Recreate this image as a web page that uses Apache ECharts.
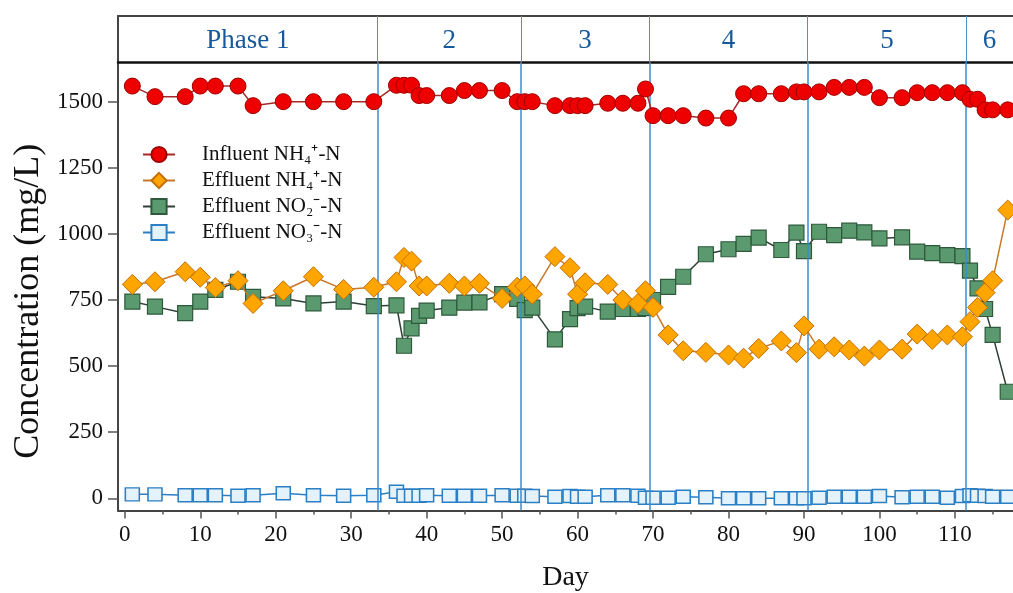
<!DOCTYPE html>
<html>
<head>
<meta charset="utf-8">
<script src="https://cdn.jsdelivr.net/npm/echarts@6/dist/echarts.min.js"></script>
<style>
html,body{margin:0;padding:0;background:#fff;}
#chart{width:1013px;height:593px;}
</style>
</head>
<body>
<div id="chart"></div>
<script>
// ---- data ----
const days = [1,4,8,10,12,15,17,21,25,29,33,36,37,38,39,40,43,45,47,50,52,53,54,57,59,60,61,64,66,68,69,70,72,74,77,80,82,84,87,89,90,92,94,96,98,100,103,105,107,109,111,112,113,114,115,117];
const influentNH4 = [1559,1519,1519,1559,1559,1559,1485,1500,1500,1500,1500,1562,1562,1562,1523,1523,1523,1542,1542,1542,1500,1500,1500,1485,1485,1485,1485,1494,1494,1494,1548,1447,1447,1447,1438,1438,1530,1530,1530,1537,1537,1537,1554,1554,1554,1515,1515,1534,1534,1534,1534,1509,1509,1469,1469,1469];
const effluentNH4 = [809,819,857,836,797,823,737,785,838,790,798,819,911,897,803,803,813,803,813,756,798,803,772,914,872,772,815,809,750,737,785,722,618,558,552,542,530,567,595,551,652,564,573,561,538,561,564,621,601,618,611,668,722,778,823,1090];
const effluentNO2 = [744,725,700,744,788,819,762,756,737,744,727,730,577,643,690,710,721,740,741,772,754,712,721,601,678,719,725,706,716,716,719,750,800,838,923,942,962,986,939,1005,935,1008,995,1012,1006,983,987,933,927,920,916,861,794,716,618,403];
const effluentNO3 = [15,15,12,12,12,10,12,19,12,10,12,25,10,10,10,12,10,10,10,12,10,10,9,6,9,6,6,12,12,10,2,2,2,6,4,0,0,0,0,0,0,2,6,6,6,9,4,6,6,2,9,12,10,9,6,6];
const phaseNames = ['Phase 1','2','3','4','5','6'];
const phaseBounds = [33.5,52.5,69.5,90.5,111.5];
const xTicks = [0,10,20,30,40,50,60,70,80,90,100,110];
const xMinorTicks = [5,15,25,35,45,55,65,75,85,95,105,115];
const yTicks = [0,250,500,750,1000,1250,1500];
const seriesNames = ['Influent NH₄⁺-N','Effluent NH₄⁺-N','Effluent NO₂⁻-N','Effluent NO₃⁻-N'];

// ---- build ----
const XMIN = -0.9, XMAX = 117.7, YMIN = -46, YMAX = 1650;
const FONT = "'Liberation Serif','Times New Roman',serif";
const pair = arr => days.map((d,i)=>[d,arr[i]]);
const edges = [XMIN].concat(phaseBounds, [XMAX]);
const phaseMid = phaseNames.map((n,i)=>[(edges[i]+edges[i+1])/2, 0.45]);

const chart = echarts.init(document.getElementById('chart'), null, {renderer:'canvas'});
const option = {
  animation:false,
  backgroundColor:'#fff',
  grid:[
    {left:118, right:0, top:62, bottom:82.5, containLabel:false, outerBoundsMode:'none'},
    {left:118, right:0, top:16, height:46, containLabel:false, outerBoundsMode:'none'}
  ],
  xAxis:[
    {gridIndex:0, type:'value', min:XMIN, max:XMAX, position:'bottom',
     axisLine:{show:true, onZero:false, lineStyle:{color:'#444', width:2}},
     axisTick:{show:true, length:8, customValues:xTicks, lineStyle:{color:'#555', width:1.5}},
     axisLabel:{show:true, customValues:xTicks, margin:13, color:'#111', fontSize:23, fontFamily:FONT, formatter:v=>String(v)},
     splitLine:{show:false},
     name:'Day', nameLocation:'middle', nameGap:53,
     nameTextStyle:{color:'#111', fontSize:28, fontFamily:FONT}},
    {gridIndex:0, type:'value', min:XMIN, max:XMAX, position:'bottom',
     axisLine:{show:false, onZero:false},
     axisTick:{show:true, length:4, customValues:xMinorTicks, lineStyle:{color:'#555', width:1.5}},
     axisLabel:{show:false}, splitLine:{show:false}},
    {gridIndex:1, type:'value', min:XMIN, max:XMAX, position:'top',
     axisLine:{show:true, onZero:false, lineStyle:{color:'#444', width:2}},
     axisTick:{show:false}, axisLabel:{show:false}, splitLine:{show:false}},
    {gridIndex:1, type:'value', min:XMIN, max:XMAX, position:'bottom',
     axisLine:{show:true, onZero:false, lineStyle:{color:'#111', width:2.5}},
     axisTick:{show:false}, axisLabel:{show:false}, splitLine:{show:false}}
  ],
  yAxis:[
    {gridIndex:0, type:'value', min:YMIN, max:YMAX,
     axisLine:{show:true, onZero:false, lineStyle:{color:'#444', width:2}},
     axisTick:{show:true, length:10, customValues:yTicks, lineStyle:{color:'#555', width:1.5}},
     axisLabel:{show:true, customValues:yTicks, margin:15, color:'#111', fontSize:23, fontFamily:FONT, formatter:v=>String(v)},
     splitLine:{show:false},
     name:'Concentration (mg/L)', nameLocation:'middle', nameGap:68,
     nameTextStyle:{color:'#111', fontSize:36, fontFamily:FONT, padding:[0,30,0,0]}},
    {gridIndex:1, type:'value', min:0, max:1,
     axisLine:{show:true, onZero:false, lineStyle:{color:'#444', width:2}},
     axisTick:{show:false}, axisLabel:{show:false}, splitLine:{show:false}}
  ],
  legend:{
    data:seriesNames, orient:'vertical', left:137, top:139,
    itemWidth:32, itemHeight:19, itemGap:5,
    textStyle:{color:'#111', fontSize:21, fontFamily:FONT, padding:[0,0,0,22]}
  },
  series:[
    {name:'phaseLines', type:'line', xAxisIndex:0, yAxisIndex:0, data:[], z:1, silent:true,
     markLine:{silent:true, symbol:['none','none'], label:{show:false},
       lineStyle:{color:'#3a8bd0', width:1.5, type:'solid'},
       data:phaseBounds.map(b=>({xAxis:b}))}},
    {name:'phases', type:'scatter', xAxisIndex:2, yAxisIndex:1, data:phaseMid, symbolSize:1,
     itemStyle:{color:'#ffffff', opacity:0}, silent:true,
     label:{show:true, position:'inside', formatter:p=>phaseNames[p.dataIndex], opacity:1,
       color:'#17599a', fontSize:27, fontFamily:FONT, textBorderWidth:0},
     markLine:{silent:true, symbol:['none','none'], label:{show:false},
       lineStyle:{color:'#4a94d4', width:1, type:'solid'},
       data:phaseBounds.map(b=>({xAxis:b}))}},
    {name:seriesNames[3], type:'line', xAxisIndex:0, yAxisIndex:0, data:pair(effluentNO3), z:3,
     symbol:'rect', symbolSize:[14,13], showAllSymbol:true,
     lineStyle:{color:'#2b7fc4', width:1.5},
     itemStyle:{color:'#e4f3fb', borderColor:'#2b7fc4', borderWidth:1.5}},
    {name:seriesNames[2], type:'line', xAxisIndex:0, yAxisIndex:0, data:pair(effluentNO2), z:4,
     symbol:'rect', symbolSize:15, showAllSymbol:true,
     lineStyle:{color:'#2e3f35', width:1.5},
     itemStyle:{color:'#5b9a6f', borderColor:'#2d5a3b', borderWidth:1.2}},
    {name:seriesNames[1], type:'line', xAxisIndex:0, yAxisIndex:0, data:pair(effluentNH4), z:5,
     symbol:'diamond', symbolSize:20, showAllSymbol:true,
     lineStyle:{color:'#c8782a', width:1.5},
     itemStyle:{color:'#ffa500', borderColor:'#c46e00', borderWidth:1}},
    {name:seriesNames[0], type:'line', xAxisIndex:0, yAxisIndex:0, data:pair(influentNH4), z:6,
     symbol:'circle', symbolSize:16, showAllSymbol:true,
     lineStyle:{color:'#a82828', width:1.5},
     itemStyle:{color:'#ee0000', borderColor:'#a00000', borderWidth:1}}
  ]
};
chart.setOption(option);
</script>
</body>
</html>
